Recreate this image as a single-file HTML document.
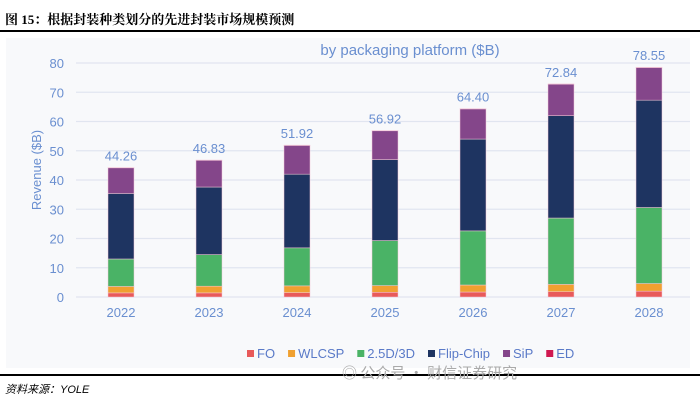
<!DOCTYPE html>
<html><head><meta charset="utf-8"><style>
body{margin:0;width:700px;height:401px;background:#fff;position:relative;overflow:hidden;font-family:"Liberation Sans","Noto Sans CJK SC",sans-serif}
.title{position:absolute;left:5px;top:9px;font-family:"Liberation Serif","Noto Serif CJK SC",serif;font-weight:bold;font-size:13px;color:#000}
.rule{position:absolute;left:0;width:700px;background:#000}
.src{position:absolute;left:5px;top:381px;font-size:11px;font-style:italic;color:#000}
.wm{position:absolute;left:342px;top:362px;font-size:15px;color:#aaa;font-family:"Noto Sans CJK SC",sans-serif}
</style></head><body>
<div class="title">图 15：根据封装种类划分的先进封装市场规模预测</div>
<div class="rule" style="top:30px;height:2px"></div>
<svg id="chart" width="700" height="401" style="position:absolute;left:0;top:0">
<rect x="6" y="38" width="684" height="330" fill="#f8f9fb"/>
<text x="410" y="55" text-anchor="middle" font-size="15" fill="#6a8fd0">by packaging platform ($B)</text>
<text transform="translate(41,170) rotate(-90)" text-anchor="middle" font-size="13" fill="#6a8fd0">Revenue ($B)</text>
<g id="grid"></g><g id="bars"></g><g id="legend"></g>
</svg>
<div class="rule" style="top:374px;height:2px"></div>
<div class="src">资料来源：YOLE</div>
<div class="wm">◎ 公众号 · 财信证券研究</div>
<script>
const years=["2022","2023","2024","2025","2026","2027","2028"];
const FO=[1.4,1.4,1.5,1.6,1.7,1.8,2.0];
const WLCSP=[2.2,2.3,2.3,2.3,2.4,2.5,2.6];
const D25=[9.4,10.8,13.0,15.4,18.5,22.7,26.0];
const FLIP=[22.4,23.1,25.2,27.7,31.4,35.0,36.7];
const SIP=[8.76,9.13,9.82,9.82,10.3,10.74,11.15];
const ED=[0.1,0.1,0.1,0.1,0.1,0.1,0.1];
const totals=["44.26","46.83","51.92","56.92","64.40","72.84","78.55"];
const yTicks=[0,10,20,30,40,50,60,70,80];
const series=[["FO",FO,"#e85a5a"],["WLCSP",WLCSP,"#f0a030"],["2.5D/3D",D25,"#4ab366"],["Flip-Chip",FLIP,"#1e3461"],["SiP",SIP,"#84468a"],["ED",ED,"#d01850"]];
const NS="http://www.w3.org/2000/svg";
const y=v=>297-v*(234/80);
const x=i=>121+i*88;
function mk(p,t,a){const e=document.createElementNS(NS,t);for(const k in a)e.setAttribute(k,a[k]);p.appendChild(e);return e;}
const G=document.getElementById('grid'),B=document.getElementById('bars'),L=document.getElementById('legend');
yTicks.forEach(t=>{
 const l=mk(G,'line',{x1:76,x2:690,y1:y(t),y2:y(t),stroke:'#e1e5f0','stroke-width':1.2});
 
 
 const tx=mk(G,'text',{x:64,y:y(t)+5,'text-anchor':'end','font-size':13,fill:'#6a8fd0'});tx.textContent=t;
 
 
});
years.forEach((yr,i)=>{
 let acc=0;
 series.forEach(s=>{
  const v=s[1][i];
  const r=mk(B,'rect',{x:x(i)-13,y:y(acc+v),width:26,height:v*(234/80),fill:s[2],stroke:'#f4c8d8','stroke-width':0.5});
  
  
  acc+=v;
 });
 const t=mk(B,'text',{x:x(i),y:y(acc)-7,'text-anchor':'middle','font-size':13,fill:'#6a8fd0'});t.textContent=totals[i];
 
 
 const xl=mk(B,'text',{x:x(i),y:317,'text-anchor':'middle','font-size':13,fill:'#6a8fd0'});xl.textContent=yr;
 
 
});
let lx=247;
series.forEach(s=>{
 const g=mk(L,'g',{});
 
 
 mk(g,'rect',{x:lx,y:350,width:7,height:7,fill:s[2]});
 const t=mk(g,'text',{x:lx+10,y:358,'font-size':13,fill:'#5a7ac8'});t.textContent=s[0];
 lx+=10+t.getComputedTextLength()+13;
});
</script>
</body></html>
